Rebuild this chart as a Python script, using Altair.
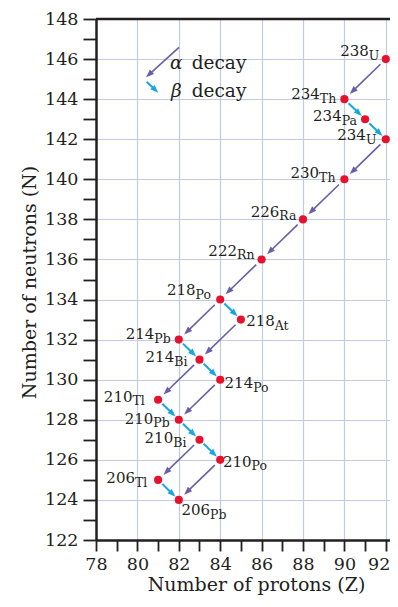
import math
import altair as alt
import pandas as pd

# ---------------- data ----------------
mass_numbers = [238, 234, 234, 234, 230, 226, 222, 218, 218, 214, 214, 214, 210, 210, 210, 210, 206, 206]
element_symbols = ["U", "Th", "Pa", "U", "Th", "Ra", "Rn", "Po", "At", "Pb", "Bi", "Po", "Tl", "Pb", "Bi", "Po", "Tl", "Pb"]
proton_numbers = [92, 90, 91, 92, 90, 88, 86, 84, 85, 82, 83, 84, 81, 82, 83, 84, 81, 82]
neutron_numbers = [146, 144, 143, 142, 140, 138, 136, 134, 133, 132, 131, 130, 129, 128, 127, 126, 125, 124]

alpha_parents = ["238U", "234U", "230Th", "226Ra", "222Rn", "218Po", "218At", "214Bi", "214Po", "210Bi", "210Po"]
alpha_daughters = ["234Th", "230Th", "226Ra", "222Rn", "218Po", "214Pb", "214Bi", "210Tl", "210Pb", "206Tl", "206Pb"]
beta_parents = ["234Th", "234Pa", "218Po", "214Pb", "214Bi", "210Tl", "210Pb", "210Bi", "206Tl"]
beta_daughters = ["234Pa", "234U", "218At", "214Bi", "214Po", "210Pb", "210Bi", "210Po", "206Pb"]

x_ticks = list(range(78, 93))
y_ticks = list(range(122, 149))
legend_greek = ["α", "β"]
legend_word = "decay"

# ---------------- layout (pixels, styles) ----------------
label_dx = [-17, -24.6, -23.4, -19.9, -25.3, -23.7, -24.6, -24.6, 33.9, -24.5, -25.3, 33.0, -25.6, -25.5, -26.3, 31.4, -23.1, 31.3]
label_dy = [-2.6, 0, 1.8, 0.8, -1, -2.7, -3.8, -4.6, 6.4, -0.7, 2.3, 8.5, 1.9, 4.1, 3.3, 6.8, 3.3, 15]
SUB_DY = 3.6

W, H = 294, 521
Z_MIN, N_MIN, N_MAX = 78, 122, 148
PX_Z = 20.7
Z_MAX = Z_MIN + W / PX_Z
PX_N = H / (N_MAX - N_MIN)

FONT = "DejaVu Serif"
TEXT = "#231f20"
AXIS = "#231f20"
GRID = "#c3cbe2"
RED = "#e8112d"
ALPHA_C = "#6a5ea6"
BETA_C = "#17a6e0"
HEAD = "M0,0L-0.75,2L0.75,2Z"
HEAD_SIZE = 66

X_SCALE = alt.Scale(domain=[Z_MIN, Z_MAX], nice=False, zero=False)
Y_SCALE = alt.Scale(domain=[N_MIN, N_MAX], nice=False, zero=False)

nuc = pd.DataFrame({
    "mass": mass_numbers,
    "symbol": element_symbols,
    "Z": proton_numbers,
    "N": neutron_numbers,
})
nuc["name"] = nuc["mass"].astype(str) + nuc["symbol"]
nuc["mass_txt"] = nuc["mass"].astype(str)
nuc["lx"] = nuc["Z"] + pd.Series(label_dx) / PX_Z
nuc["ly"] = nuc["N"] - pd.Series(label_dy) / PX_N
nuc["sy"] = nuc["N"] - (pd.Series(label_dy) + SUB_DY) / PX_N
pos = nuc.set_index("name")


def arrow_table(parents, daughters, f0, f1, back_px):
    rows = []
    for a, b in zip(parents, daughters):
        z0, n0 = pos.loc[a, "Z"], pos.loc[a, "N"]
        z1, n1 = pos.loc[b, "Z"], pos.loc[b, "N"]
        dz, dn = z1 - z0, n1 - n0
        length_px = math.hypot(dz * PX_Z, dn * PX_N)
        fl = f1 - back_px / length_px
        ang = math.degrees(math.atan2(dz * PX_Z, dn * PX_N)) % 360
        rows.append({
            "x0": z0 + f0 * dz, "y0": n0 + f0 * dn,
            "x1": z0 + fl * dz, "y1": n0 + fl * dn,
            "tx": z0 + f1 * dz, "ty": n0 + f1 * dn,
            "angle": ang,
        })
    return pd.DataFrame(rows)


alpha_df = arrow_table(alpha_parents, alpha_daughters, 0.13, 0.87, 4)
beta_df = arrow_table(beta_parents, beta_daughters, 0.2, 0.84, 4)

x_axis = alt.Axis(
    values=x_ticks,
    labelExpr="datum.value % 2 === 0 ? datum.label : ''",
    grid=True, gridColor=GRID, gridWidth=1.2,
    gridOpacity={"condition": {"test": "datum.value % 2 !== 0 || datum.value === 78", "value": 0}, "value": 1},
    domainColor=AXIS, domainWidth=2.5,
    tickColor=AXIS, tickWidth=1.8, tickSize=11,
    labelFont=FONT, labelFontSize=17.5, labelColor=TEXT, labelPadding=4,
    labelAlign={"condition": {"test": "datum.value === 92", "value": "right"}, "value": "center"},
    labelOffset={"condition": {"test": "datum.value === 92", "value": 4}, "value": 0},
    labelFlush=False, labelOverlap=False,
    title="Number of protons (Z)", titleFont=FONT, titleFontSize=19,
    titleFontWeight="normal", titleColor=TEXT,
    titleX=160, titleY=50, titleAlign="center", titleBaseline="alphabetic",
)
y_axis = alt.Axis(
    values=y_ticks,
    labelExpr="datum.value % 2 === 0 ? datum.label : ''",
    grid=True, gridColor=GRID, gridWidth=1.2,
    gridOpacity={"condition": {"test": "datum.value % 2 !== 0 || datum.value === 148 || datum.value === 122", "value": 0}, "value": 1},
    domainColor=AXIS, domainWidth=2.5,
    tickColor=AXIS, tickWidth=1.8, tickSize=13,
    labelFont=FONT, labelFontSize=17.5, labelColor=TEXT, labelPadding=5,
    labelOverlap=False,
    title="Number of neutrons (N)", titleFont=FONT, titleFontSize=19,
    titleFontWeight="normal", titleColor=TEXT,
    titleX=-61, titleY=263, titleAngle=270, titleAlign="center", titleBaseline="alphabetic",
)


def X(field):
    return alt.X(field, type="quantitative", scale=X_SCALE, axis=x_axis)


def Y(field):
    return alt.Y(field, type="quantitative", scale=Y_SCALE, axis=y_axis)


dots = alt.Chart(nuc).mark_circle(size=66, color=RED, opacity=1).encode(x=X("Z"), y=Y("N"))

top_df = pd.DataFrame({"Z": [Z_MIN], "top": [N_MAX]})
top_border = alt.Chart(top_df).mark_rule(color=AXIS, strokeWidth=2.5).encode(y=Y("top"))

alpha_lines = alt.Chart(alpha_df).mark_rule(color=ALPHA_C, strokeWidth=1.6).encode(
    x=X("x0"), y=Y("y0"), x2="x1", y2="y1")
beta_lines = alt.Chart(beta_df).mark_rule(color=BETA_C, strokeWidth=2).encode(
    x=X("x0"), y=Y("y0"), x2="x1", y2="y1")
alpha_heads = alt.Chart(alpha_df).mark_point(shape=HEAD, filled=True, size=HEAD_SIZE, color=ALPHA_C, opacity=1).encode(
    x=X("tx"), y=Y("ty"), angle=alt.Angle("angle:Q", scale=None))
beta_heads = alt.Chart(beta_df).mark_point(shape=HEAD, filled=True, size=HEAD_SIZE, color=BETA_C, opacity=1).encode(
    x=X("tx"), y=Y("ty"), angle=alt.Angle("angle:Q", scale=None))

mass_text = alt.Chart(nuc).mark_text(font=FONT, fontSize=15, color=TEXT, align="right", baseline="alphabetic").encode(
    x=X("lx"), y=Y("ly"), text="mass_txt:N")
sym_text = alt.Chart(nuc).mark_text(font=FONT, fontSize=12.5, color=TEXT, align="left", baseline="alphabetic").encode(
    x=X("lx"), y=Y("sy"), text="symbol:N")

# legend (pixel positions inside the plot area)
one = pd.DataFrame({"k": [0]})


def legend_arrow(x0, y0, x1, y1, color, width):
    L = math.hypot(x1 - x0, y1 - y0)
    ux, uy = (x1 - x0) / L, (y1 - y0) / L
    ang = math.degrees(math.atan2(ux, -uy)) % 360
    line = alt.Chart(one).mark_rule(color=color, strokeWidth=width).encode(
        x=alt.value(x0), y=alt.value(y0), x2=alt.value(x1 - 4 * ux), y2=alt.value(y1 - 4 * uy))
    head = alt.Chart(one).mark_point(shape=HEAD, filled=True, size=HEAD_SIZE, color=color, opacity=1, angle=ang).encode(
        x=alt.value(x1), y=alt.value(y1))
    return [line, head]


def legend_text(txt, x, y, italic):
    kw = {"fontStyle": "italic"} if italic else {}
    return alt.Chart(one).mark_text(text=txt, font=FONT, fontSize=18.5, color=TEXT, align="left",
                                    baseline="alphabetic", **kw).encode(x=alt.value(x), y=alt.value(y))


legend = (
    legend_arrow(83, 28.3, 50, 58.3, ALPHA_C, 1.6)
    + legend_arrow(50.7, 62.7, 62.3, 73.7, BETA_C, 2)
    + [legend_text(legend_greek[0], 74, 50.3, True), legend_text(legend_word, 95.7, 50.3, False),
       legend_text(legend_greek[1], 75, 77.7, True), legend_text(legend_word, 95.7, 77.7, False)]
)

chart = alt.layer(
    dots, top_border, alpha_lines, beta_lines, alpha_heads, beta_heads,
    mass_text, sym_text, *legend,
).properties(
    width=W, height=H,
    padding={"left": 88, "top": 11, "right": 0, "bottom": 55},
    autosize=alt.AutoSizeParams(type="none"),
).configure_view(strokeWidth=0).configure(background="white")

chart.save("out.html", embed_options={"renderer": "svg", "actions": False})
